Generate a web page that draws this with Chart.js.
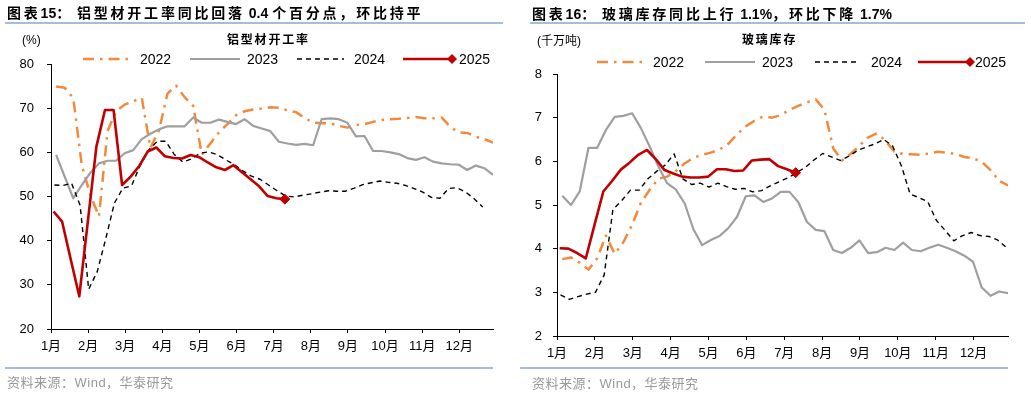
<!DOCTYPE html>
<html>
<head>
<meta charset="utf-8">
<script src="https://cdn.jsdelivr.net/npm/chart.js@4.4.1/dist/chart.umd.min.js"></script>
<style>
  body { margin: 0; width: 1031px; height: 397px; background: #fff; position: relative; overflow: hidden;
         font-family: 'Liberation Sans', 'Noto Sans CJK SC', sans-serif; color: #000; }
  canvas { position: absolute; top: 0; }
  .t { position: absolute; white-space: pre; line-height: 1; }
  .title { font-size: 14px; font-weight: bold; letter-spacing: 2.8px; }
  .title .n { letter-spacing: 0; }
  .sub { font-size: 12px; font-weight: bold; letter-spacing: 1.8px; }
  .unit { font-size: 12px; }
  .lg { font-size: 14px; }
  .src { font-size: 13px; color: #999; letter-spacing: 0.5px; }
  .rule { position: absolute; height: 2px; background: #a3bddb; }
</style>
</head>
<body>
<canvas id="alu" width="515" height="397" style="left:0"></canvas>
<canvas id="glass" width="516" height="397" style="left:515px"></canvas>

<div class="t title" style="left:7px;top:6px">图表<span class="n">15</span>：<span class="n"> </span>铝型材开工率同比回落<span class="n"> 0.4 </span>个百分点，环比持平</div>
<div class="rule" style="left:5px;top:22px;width:498px"></div>
<div class="t unit" style="left:22px;top:34px">(%)</div>
<div class="t sub" style="left:227px;top:34px">铝型材开工率</div>
<div class="t lg" style="left:140px;top:52px">2022</div>
<div class="t lg" style="left:247px;top:52px">2023</div>
<div class="t lg" style="left:354px;top:52px">2024</div>
<div class="t lg" style="left:459px;top:52px">2025</div>
<div class="rule" style="left:5px;top:367px;width:488px"></div>
<div class="t src" style="left:7px;top:376px">资料来源：Wind，华泰研究</div>

<div class="t title" style="left:532px;top:7px">图表<span class="n">16</span>：<span class="n"> </span>玻璃库存同比上行<span class="n"> 1.1%</span>，环比下降<span class="n"> 1.7%</span></div>
<div class="rule" style="left:530px;top:22px;width:495px"></div>
<div class="t unit" style="left:537px;top:35px">(千万吨)</div>
<div class="t sub" style="left:742px;top:34px">玻璃库存</div>
<div class="t lg" style="left:653px;top:55px">2022</div>
<div class="t lg" style="left:762px;top:55px">2023</div>
<div class="t lg" style="left:871px;top:55px">2024</div>
<div class="t lg" style="left:975px;top:55px">2025</div>
<div class="rule" style="left:520px;top:367px;width:488px"></div>
<div class="t src" style="left:532px;top:377px">资料来源：Wind，华泰研究</div>

<script>
// month ticks and weekly series (one value per week)
const monthLabels = ['1月','2月','3月','4月','5月','6月','7月','8月','9月','10月','11月','12月'];
const years = ['2022', '2023', '2024', '2025'];

// 铝型材开工率 (%)
const alu2022 = [74.9, 74.6, 72.3, 57, 50.3, 45.5, 64.8, 69.3, 70.8, 71.6, 72.3, 61, 64.9, 73.3, 75.1, 72.5, 70.5, 59.5, 62, 64.5,
  66.4, 68.4, 69.3, 69.7, 69.9, 70.2, 70.1, 69.5, 69.1, 67.8, 66.7, 66.6, 66.6, 66, 65.6, 66.2, 66.4, 66.9, 67.3, 67.5,
  67.6, 67.8, 68, 67.7, 67.7, 67.9, 65.8, 64.5, 64.4, 63.5, 63, 62.2];
const alu2023 = [59.4, 54.5, 49.6, 52.6, 55.4, 57.5, 58.1, 58.1, 59.8, 60.5, 63, 64.2, 65.2, 65.9, 65.9, 65.9, 67.9, 66.7, 66.7, 67.4,
  66.9, 66.4, 67.5, 66, 65.4, 64.8, 62.4, 62, 61.7, 61.9, 61.6, 67.5, 67.7, 67.5, 66.7, 63.6, 63.7, 60.3, 60.3, 60,
  59.6, 58.7, 58.3, 58.9, 57.9, 57.5, 57.3, 57.2, 56, 57, 56.4, 54.9];
const alu2024 = [52.6, 52.5, 53, 48, 29, 33, 40.5, 48.5, 51.9, 52.4, 57, 60.5, 62.5, 62.5, 59.5, 57.8, 58.5, 59.8, 60.1, 59.5,
  58.3, 57.2, 55.8, 54.6, 53.9, 52.6, 51.3, 50.1, 49.9, 50.3, 50.6, 51, 51.3, 51.2, 51.2, 51.9, 52.7, 53.1, 53.5, 53.2,
  53, 52.5, 51.8, 51, 49.8, 49.6, 51.8, 52, 51, 49.5, 47.6];
const alu2025 = [46.6, 44.3, 35.8, 27.4, 44.3, 61.3, 69.6, 69.6, 52.6, 54.5, 56.9, 60.2, 61.1, 59.1, 58.7, 58.6, 59.4, 58.9, 57.7, 56.6,
  56, 57.1, 55.5, 53.9, 52.3, 50.1, 49.6, 49.4];

// 玻璃库存 (千万吨)
const gl2022 = [3.76, 3.8, 3.68, 3.52, 3.78, 4.3, 3.88, 4.15, 4.55, 5.05, 5.35, 5.6, 5.65, 5.78, 5.95, 6.08, 6.15, 6.2, 6.27, 6.4,
  6.62, 6.8, 6.93, 7.03, 7.0, 7.06, 7.18, 7.27, 7.35, 7.42, 7.18, 6.3, 6.02, 6.17, 6.36, 6.55, 6.64, 6.47, 6.22, 6.17,
  6.16, 6.15, 6.18, 6.22, 6.2, 6.17, 6.1, 6.07, 5.99, 5.8, 5.55, 5.45];
const gl2023 = [5.21, 5.0, 5.31, 6.31, 6.31, 6.72, 7.02, 7.04, 7.1, 6.76, 6.34, 5.88, 5.5, 5.35, 5.04, 4.45, 4.08, 4.2, 4.29, 4.47,
  4.73, 5.2, 5.22, 5.07, 5.15, 5.3, 5.3, 5.07, 4.61, 4.43, 4.4, 3.97, 3.9, 4.02, 4.19, 3.9, 3.92, 4.02, 3.97, 4.14,
  3.97, 3.94, 4.02, 4.09, 4.02, 3.94, 3.84, 3.7, 3.11, 2.92, 3.02, 2.98];
const gl2024 = [2.94, 2.84, 2.9, 2.96, 3.0, 3.4, 4.9, 5.1, 5.34, 5.34, 5.6, 5.77, 5.92, 6.17, 5.6, 5.47, 5.5, 5.41, 5.5, 5.42,
  5.36, 5.38, 5.3, 5.33, 5.44, 5.53, 5.62, 5.74, 5.86, 6.03, 6.18, 6.1, 6.02, 6.12, 6.25, 6.33, 6.4, 6.5, 6.35, 5.9,
  5.25, 5.17, 5.08, 4.65, 4.42, 4.18, 4.3, 4.37, 4.3, 4.28, 4.2, 4.03];
const gl2025 = [4.01, 4.0, 3.9, 3.78, 4.55, 5.31, 5.55, 5.81, 5.97, 6.15, 6.26, 6.05, 5.8, 5.72, 5.65, 5.63, 5.63, 5.65, 5.82, 5.82,
  5.78, 5.79, 6.02, 6.04, 6.05, 5.89, 5.82, 5.74];

// week offset of each year's first reading
const weekOffset = [0.6, 0.6, 0.4, 0.3];

const FONT = "'Liberation Sans', 'Noto Sans CJK SC', sans-serif";
const styles = [
  { borderColor: '#f28a3c', borderWidth: 2.5, borderDash: [11, 6, 2.5, 6] },
  { borderColor: '#9f9f9f', borderWidth: 2.2, borderDash: [] },
  { borderColor: '#000000', borderWidth: 1.4, borderDash: [5, 4] },
  { borderColor: '#c00000', borderWidth: 2.6, borderDash: [] }
];

function toPoints(vals, off) {
  return vals.map((v, i) => ({ x: off + i, y: v }));
}

// legend symbols (labels are html)
const lineLegend = {
  id: 'lineLegend',
  afterDraw(chart, args, opts) {
    const ctx = chart.ctx;
    chart.data.datasets.forEach((ds, i) => {
      const [x1, x2] = opts.spans[i];
      ctx.save();
      ctx.strokeStyle = ds.borderColor;
      ctx.lineWidth = ds.borderWidth;
      ctx.setLineDash(ds.borderDash);
      ctx.beginPath();
      ctx.moveTo(x1, opts.y);
      ctx.lineTo(x2, opts.y);
      ctx.stroke();
      if (i === 3) {
        ctx.setLineDash([]);
        ctx.fillStyle = ds.borderColor;
        ctx.beginPath();
        ctx.moveTo(x2, opts.y - 5); ctx.lineTo(x2 + 5, opts.y);
        ctx.lineTo(x2, opts.y + 5); ctx.lineTo(x2 - 5, opts.y);
        ctx.closePath();
        ctx.fill();
      }
      ctx.restore();
    });
  }
};

function makeChart(id, series, y, box, legend) {
  const datasets = series.map((vals, i) => ({
    label: years[i],
    data: toPoints(vals, weekOffset[i]),
    borderColor: styles[i].borderColor,
    borderWidth: styles[i].borderWidth,
    borderDash: styles[i].borderDash,
    borderJoinStyle: 'round',
    fill: false,
    tension: 0,
    order: 3 - i,
    pointStyle: 'rectRot',
    pointRadius: i === 3 ? (c => c.dataIndex === vals.length - 1 ? 5 : 0) : 0,
    pointBackgroundColor: styles[i].borderColor,
    pointBorderColor: styles[i].borderColor,
    pointBorderWidth: 1
  }));

  return new Chart(document.getElementById(id), {
    type: 'line',
    data: { datasets },
    options: {
      responsive: false,
      animation: false,
      layout: { padding: { top: box.top, right: box.right, bottom: box.bottom, left: 0 } },
      plugins: {
        legend: { display: false },
        tooltip: { enabled: false },
        lineLegend: legend
      },
      scales: {
        x: {
          type: 'linear',
          min: 0,
          max: 51.6,
          afterBuildTicks: s => { s.ticks = monthLabels.map((m, k) => ({ value: k * 52 / 12 })); },
          afterFit: s => { s.height = 30; },
          ticks: {
            autoSkip: false, maxRotation: 0, padding: 6, color: '#000',
            font: { family: FONT, size: 13 },
            callback: (v, i) => monthLabels[i]
          },
          grid: { drawOnChartArea: false, drawTicks: true, tickLength: 4, color: '#000' },
          border: { color: '#000', width: 1 }
        },
        y: {
          min: y.min, max: y.max,
          afterFit: s => { s.width = box.left; },
          ticks: { stepSize: y.step, padding: y.pad, color: '#000', font: { family: FONT, size: 13 } },
          grid: { drawOnChartArea: false, drawTicks: true, tickLength: 4, color: '#000' },
          border: { color: '#000', width: 1 }
        }
      }
    },
    plugins: [lineLegend]
  });
}

makeChart('alu', [alu2022, alu2023, alu2024, alu2025],
  { min: 20, max: 80, step: 10, pad: 13 },
  { left: 51, top: 64, right: 22, bottom: 38 },
  { y: 59, spans: [[83, 130], [190, 240], [297, 344], [403, 452]] });

makeChart('glass', [gl2022, gl2023, gl2024, gl2025],
  { min: 2, max: 8, step: 1, pad: 11 },
  { left: 42, top: 74, right: 23, bottom: 31 },
  { y: 62, spans: [[82, 128], [190, 240], [300, 343], [403, 455]] });
</script>
</body>
</html>
